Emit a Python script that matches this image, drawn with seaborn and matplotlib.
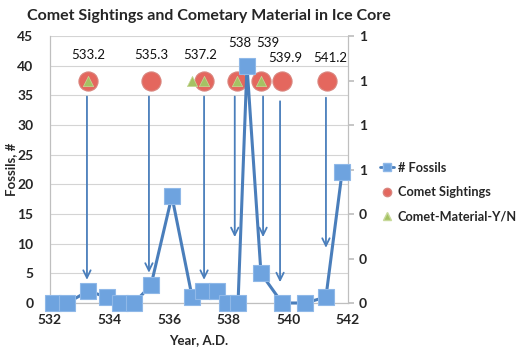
import matplotlib
matplotlib.use("Agg")
import matplotlib.pyplot as plt
import matplotlib.ticker as mticker
from matplotlib.lines import Line2D
import seaborn as sns
import pandas as pd

# ---- data ----
fossil_years = [532.1, 532.57, 533.28, 533.91, 534.35, 534.82, 535.39, 536.09, 536.77,
                537.13, 537.6, 537.94, 538.31, 538.61, 539.08, 539.79, 540.56, 541.26, 541.8]
fossil_counts = [0, 0, 2, 1, 0, 0, 3, 18, 1, 2, 2, 0, 0, 40, 5, 0, 0, 1, 22]

comet_years = [533.28, 535.39, 537.17, 538.27, 539.08, 539.79, 541.3]
comet_flag = [1, 1, 1, 1, 1, 1, 1]

material_years = [533.28, 536.77, 537.17, 538.27, 539.08]
material_flag = [1, 1, 1, 1, 1]

sighting_labels = ["533.2", "535.3", "537.2", "538", "539", "539.9", "541.2"]
label_x = [533.28, 535.39, 537.03, 538.38, 539.32, 539.89, 541.4]
label_y = [41.8, 41.8, 41.8, 43.8, 43.8, 41.3, 41.3]

arrow_x = [533.24, 535.32, 537.17, 538.2, 539.15, 539.72, 541.26]
arrow_top = [34.8, 34.8, 34.8, 34.8, 34.8, 34.0, 34.6]
arrow_end = [3.9, 5.1, 3.9, 11.1, 11.1, 3.5, 9.3]

x_ticks = [532, 534, 536, 538, 540, 542]
left_ticks = [0, 5, 10, 15, 20, 25, 30, 35, 40, 45]
right_ticks = [0, 0.2, 0.4, 0.6, 0.8, 1.0, 1.2]

sns.set_theme(style="white")
plt.rcParams['font.family'] = ['Lato', 'DejaVu Sans']

fossils = pd.DataFrame({"year": fossil_years, "count": fossil_counts})
comets = pd.DataFrame({"year": comet_years, "flag": comet_flag})
material = pd.DataFrame({"year": material_years, "flag": material_flag})

fig = plt.figure(figsize=(5.2, 3.53), dpi=100)
ax = fig.add_axes([50/520, 1-303/353, (348-50)/520, (303-36)/353])
ax2 = ax.twinx()

line_c = "#4a7ebb"
sq_face = "#6ea3df"
circ_face = "#e4675e"
tri_face = "#a5c263"

# secondary axis: comet sightings & material
sns.scatterplot(data=comets, x="year", y="flag", ax=ax2, marker="o", s=190,
                color=circ_face, edgecolor="#d9857e", linewidth=0.8, zorder=3, legend=False)
sns.scatterplot(data=material, x="year", y="flag", ax=ax2, marker="^", s=55,
                color=tri_face, edgecolor="#c7d99a", linewidth=0.5, zorder=4, legend=False)
ax2.set_ylim(0, 1.2)
ax2.set_yticks(right_ticks)
ax2.yaxis.set_major_formatter(mticker.FuncFormatter(lambda v, p: f"{v:.0f}"))
ax2.set_ylabel("")

# primary axis on top
ax.set_zorder(ax2.get_zorder() + 1)
ax.patch.set_visible(False)

sns.lineplot(data=fossils, x="year", y="count", ax=ax, color=line_c, linewidth=2.2,
             marker="s", markersize=11, markerfacecolor=sq_face,
             markeredgecolor="#8fb8e8", markeredgewidth=0.8, clip_on=False, zorder=5)

ax.set_xlim(532, 542)
ax.set_ylim(0, 45)
ax.set_xticks(x_ticks)
ax.set_yticks(left_ticks)
ax.yaxis.grid(True, color="#d4d4d4", linewidth=0.8)
ax.set_axisbelow(True)

# arrows
for x, y0, y1 in zip(arrow_x, arrow_top, arrow_end):
    ax.annotate("", xy=(x, y1), xytext=(x, y0),
                arrowprops=dict(arrowstyle="->,head_length=0.45,head_width=0.22",
                                color=line_c, lw=1.3, shrinkA=0, shrinkB=0), zorder=4)

# sighting year labels
for t, x, y in zip(sighting_labels, label_x, label_y):
    ax.text(x, y, t, ha="center", va="center", fontsize=9.5, color="#111111", zorder=6)

for a in (ax, ax2):
    for s in a.spines.values():
        s.set_color("#bfbfbf")
        s.set_linewidth(0.8)
ax.spines["top"].set_visible(False)
ax2.spines["top"].set_visible(False)

ax.tick_params(axis="x", length=0, labelsize=10, pad=8)
ax.tick_params(axis="y", length=0, labelsize=10, pad=12)
ax2.tick_params(axis="y", length=4, color="#bfbfbf", labelsize=10, pad=4)
for lab in ax.get_xticklabels() + ax.get_yticklabels() + ax2.get_yticklabels():
    lab.set_fontweight("bold")

ax.set_xlabel("Year, A.D.", fontsize=9.5, fontweight="bold", labelpad=6)
ax.set_ylabel("Fossils, #", fontsize=9.5, fontweight="bold", labelpad=0)

fig.text(209/520, 1-16/353, "Comet Sightings and Cometary Material in Ice Core",
         ha="center", va="center", fontsize=11.5, fontweight="bold")

handles = [
    Line2D([], [], color=line_c, lw=2, marker="s", markersize=6,
           markerfacecolor=sq_face, markeredgecolor="#8fb8e8"),
    Line2D([], [], ls="", marker="o", markersize=6, markerfacecolor=circ_face,
           markeredgecolor="#d9857e"),
    Line2D([], [], ls="", marker="^", markersize=5.5, markerfacecolor=tri_face,
           markeredgecolor="#c7d99a"),
]
fig.legend(handles, ["# Fossils", "Comet Sightings", "Comet-Material-Y/N"],
           loc="center left", bbox_to_anchor=(380/520, 1-192/353), frameon=False,
           prop={"size": 9.2, "weight": "bold"}, handlelength=1.1, handletextpad=0.3,
           labelspacing=0.95, borderpad=0, borderaxespad=0)

fig.savefig("out.png", dpi=100)
